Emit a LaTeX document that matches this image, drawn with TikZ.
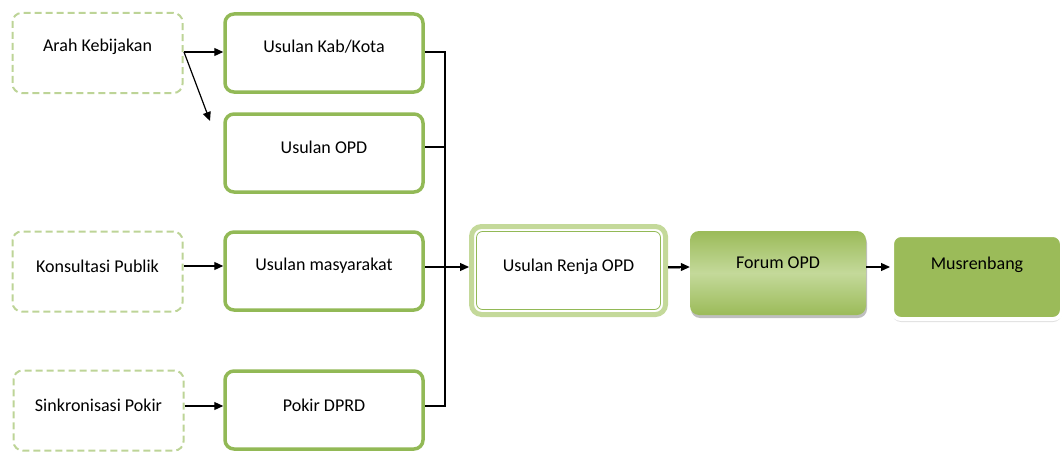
\documentclass[tikz,border=0pt]{standalone}
\usepackage{fontspec}
\setmainfont{Carlito}
\usetikzlibrary{arrows.meta,shadows}
\definecolor{gborder}{HTML}{92B956}
\definecolor{gdash}{HTML}{BDD497}
\definecolor{gfill}{HTML}{9BBB59}
\definecolor{glight}{HTML}{C4D99A}
\begin{document}
\begin{tikzpicture}[x=1pt,y=-1pt,
  font=\fontsize{18}{20}\selectfont,
  dashbox/.style={draw=gdash,line width=2pt,dash pattern=on 7pt off 4pt,rounded corners=9pt,minimum width=170pt,minimum height=80pt,inner sep=0pt},
  solidbox/.style={draw=gborder,line width=3.5pt,rounded corners=9pt,minimum width=198pt,minimum height=78pt,inner sep=0pt},
  arr/.style={-{Triangle[length=9pt,width=8pt]},line width=1.2pt},
  conn/.style={line width=1.2pt}]
\useasboundingbox (0,0) rectangle (1062,452);
% left dashed boxes
\node[dashbox] (ak) at (97.5,53) {};
\node at (97.5,47) {Arah Kebijakan};
\node[dashbox] (kp) at (97.5,271.5) {};
\node at (97.5,266) {Konsultasi Publik};
\node[dashbox] (sp) at (98.5,410.5) {};
\node at (98.5,405) {Sinkronisasi Pokir};
% middle boxes
\node[solidbox] (kk) at (324,53) {};
\node at (324,47) {Usulan Kab/Kota};
\node[solidbox] (uo) at (324,153) {};
\node at (324,147) {Usulan OPD};
\node[solidbox] (um) at (324,271) {};
\node at (324,266) {Usulan masyarakat};
\node[solidbox] (pd) at (324,410) {};
\node at (324,405) {Pokir DPRD};
% renja
\node[draw=glight,line width=5pt,rounded corners=10pt,minimum width=194pt,minimum height=88pt] (ur) at (568.5,270.5) {};
\node[draw=gborder,line width=0.8pt,rounded corners=6pt,minimum width=184pt,minimum height=78pt] (uri) at (568.5,270.5) {};
\node at (568.5,267) {Usulan Renja OPD};
% forum
\shade[top color=gfill,bottom color=gfill,middle color=glight,rounded corners=9pt,drop shadow={shadow xshift=1pt,shadow yshift=-3pt,opacity=0.5}] (690,231) rectangle (866,315);
\node[minimum width=176pt,minimum height=84pt] (fo) at (778,273) {};
\node at (778,263) {Forum OPD};
% musrenbang
\fill[black!12,rounded corners=9pt] (892,238) rectangle (1062,322);
\node[fill=gfill,draw=white,line width=4pt,rounded corners=9pt,minimum width=170pt,minimum height=84pt] (mu) at (977,277) {};
\node at (977,265) {Musrenbang};
% connectors
\coordinate (j1) at (445,52);
\coordinate (j2) at (445,147);
\coordinate (j3) at (445,267);
\coordinate (j4) at (445,406);
\coordinate (akr) at (184,52);
\coordinate (diag) at (210,121);
\draw[arr] (akr) -- (kk.west |- akr);
\draw[arr] (akr) -- (diag);
\draw[arr] (kp.east |- 0,266) -- (um.west |- 0,266);
\draw[arr] (sp.east |- 0,406) -- (pd.west |- 0,406);
\draw[conn] (kk.east |- j1) -- (j1) -- (j4) -- (pd.east |- j4);
\draw[conn] (uo.east |- j2) -- (j2);
\draw[conn] (um.east |- j3) -- (j3);
\draw[arr] (j3) -- (ur.west |- j3);
\draw[line width=3pt,black!45] (ur.east |- j3) -- ++(12,0);
\draw[arr] (ur.east |- j3) -- (fo.west |- j3);
\draw[arr] (fo.east |- j3) -- (mu.west |- j3);
\end{tikzpicture}
\end{document}
